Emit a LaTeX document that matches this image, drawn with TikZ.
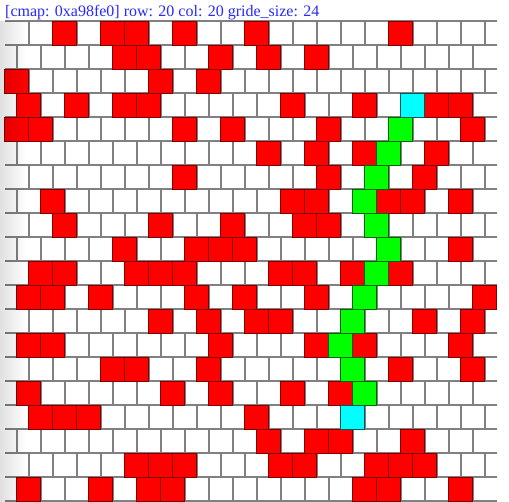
\documentclass[tikz,border=0pt]{standalone}
\usepackage{fontspec}
\setmainfont{Liberation Serif}
\usetikzlibrary{fadings}
\tikzfading[name=fadeleft, left color=transparent!0, right color=transparent!100]
\definecolor{titleblue}{RGB}{40,40,255}
\definecolor{gridgray}{RGB}{128,128,128}
\definecolor{cellred}{RGB}{255,0,0}
\definecolor{cellgreen}{RGB}{0,255,0}
\definecolor{cellcyan}{RGB}{0,255,255}
\newcommand\mycell[3]{%
  \pgfmathsetmacro\cx{mod(#1,2)==0 ? 4.7+24*#2 : 16.7+24*#2}%
  \pgfmathsetmacro\cy{21.3+24*#1}%
  \draw[#3] (\cx,\cy) rectangle ++(24,24);}
\begin{document}
\begin{tikzpicture}[x=1pt,y=-1pt,
  gridline/.style={draw=gridgray, line width=2pt},
  redcell/.style={fill=cellred, draw=cellred!50!black, line width=1pt},
  greencell/.style={fill=cellgreen, draw=cellgreen!40!black, line width=1pt},
  cyancell/.style={fill=cellcyan, draw=cellcyan!35!black, line width=1pt},
  titletext/.style={anchor=base west, text=titleblue, font=\fontsize{16}{19}\selectfont, inner sep=0pt}]
\useasboundingbox (0,0) rectangle (509,502);
\fill[white] (0,0) rectangle (509,502);
\node[titletext] (title) at (5,17) {[cmap: 0xa98fe0] row: 20 col: 20 gride\_size: 24};
% horizontal grid lines
\foreach \r in {0,...,20} {
  \pgfmathsetmacro\ly{21.3+24*\r}
  \draw[gridline] (5,\ly) -- (496.7,\ly);
}
% vertical grid lines
\foreach \r in {0,...,19} {
  \pgfmathsetmacro\off{mod(\r,2)==0 ? 28.7 : 16.7}
  \pgfmathsetmacro\ya{21.3+24*\r}
  \pgfmathsetmacro\yb{45.3+24*\r}
  \foreach \k in {0,...,19} {
    \pgfmathsetmacro\lx{\off+24*\k}
    \draw[gridline] (\lx,\ya) -- (\lx,\yb);
  }
}
% red cells
\foreach \r/\lst in {0/{2,4,5,7,10,16}, 1/{4,5,8,10,12}, 2/{0,6,8},
  3/{0,2,4,5,11,14,17,18}, 4/{0,1,7,9,13,19}, 5/{10,12,14,17}, 6/{7,13,17},
  7/{1,11,12,15,16,18}, 8/{2,6,9,12,13}, 9/{4,7,8,9,18},
  10/{1,2,5,6,7,11,12,14,16}, 11/{0,1,3,7,9,12,19}, 12/{6,8,10,11,17,19},
  13/{0,1,8,12,14,18}, 14/{4,5,8,16,19}, 15/{0,6,8,11,13}, 16/{1,2,3,10},
  17/{10,12,13,16}, 18/{5,6,7,11,12,15,16,17}, 19/{0,3,5,6,14,15,18}} {
  \foreach \j in \lst { \mycell{\r}{\j}{redcell} }
}
% green path cells
\foreach \r/\j in {4/16, 5/15, 6/15, 7/14, 8/15, 9/15, 10/15, 11/14, 12/14, 13/13, 14/14, 15/14} {
  \mycell{\r}{\j}{greencell}
}
% start and end cells
\mycell{3}{16}{cyancell}
\mycell{16}{14}{cyancell}
% left edge shadow
\fill[black, opacity=0.12, path fading=fadeleft] (0,21) rectangle (26,502);
\end{tikzpicture}
\end{document}
